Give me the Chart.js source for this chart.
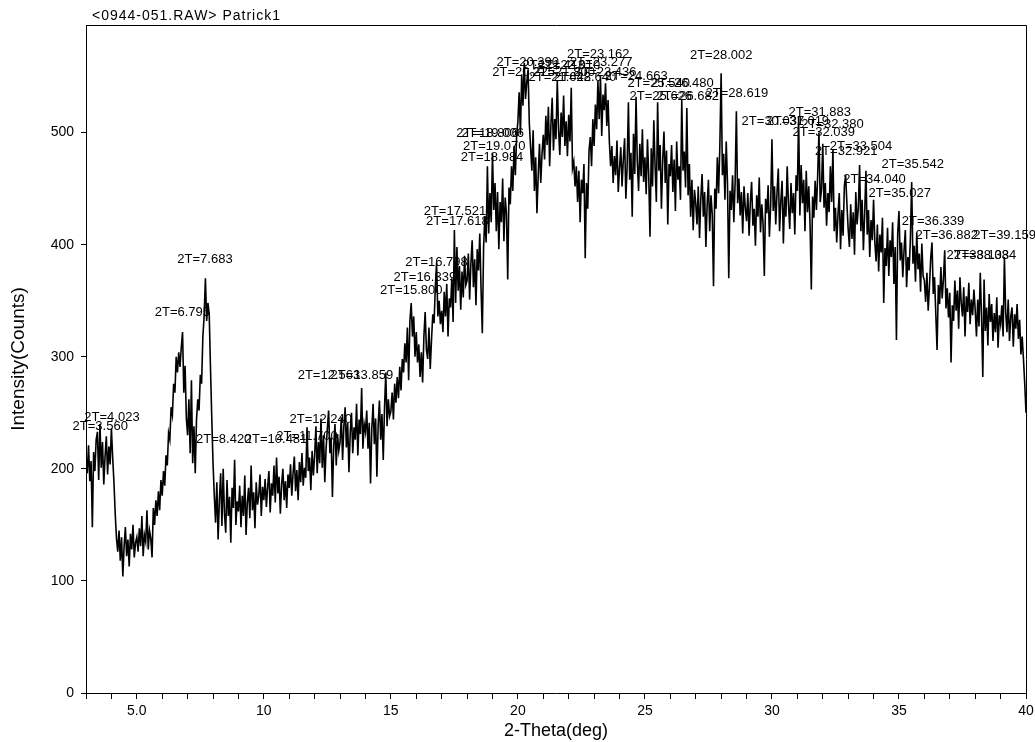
<!DOCTYPE html>
<html>
<head>
<meta charset="utf-8">
<title>0944-051 Patrick1</title>
<script src="https://cdn.jsdelivr.net/npm/chart.js@4.4.1/dist/chart.umd.min.js"></script>
<style>
    html, body { margin: 0; padding: 0; background: #fff; }
    #wrap { width: 1035px; height: 742px; }
</style>
</head>
<body>
<div id="wrap"><canvas id="xrd_chart" width="1035" height="742"></canvas></div>
<script>
// scan: 2-theta from 3.00 to 40.00 deg, one reading every 0.05 deg
var thetaStart = 3.0;
var thetaStep = 0.05;

// counts, one row per degree
var counts = [
    212, 196, 221, 189, 207, 148, 215, 198, 226, 233, 190, 240, 201, 224, 186, 211, 229, 195, 220, 204,
    236, 210, 188, 160, 138, 126, 145, 118, 139, 104, 131, 148, 122, 137, 113, 142, 128, 150, 121, 134,
    139, 126, 147, 131, 158, 122, 141, 135, 163, 128, 145, 138, 121, 165, 150, 172, 158, 180, 163, 190,
    176, 198, 185, 212, 203, 232, 226, 255, 248, 276, 268, 300, 286, 304, 291, 308, 322, 268, 292, 245,
    230, 262, 214, 279, 205, 238, 196, 244, 262, 252, 284, 276, 318, 336, 370, 332, 348, 338, 290, 246,
    205, 176, 152, 188, 137, 172, 196, 149, 200, 160, 143, 190, 158, 175, 134, 183, 165, 208, 150, 171,
    162, 185, 148, 176, 158, 194, 141, 170, 183, 156, 203, 163, 179, 147, 188, 168, 176, 195, 158, 184,
    172, 191, 166, 184, 198, 161, 187, 176, 203, 170, 210, 178, 193, 160, 186, 200, 172, 189, 165, 195,
    183, 204, 176, 196, 211, 180, 199, 172, 206, 188, 214, 185, 201, 192, 237, 198, 210, 181, 216, 194,
    212, 238, 196, 224, 205, 245, 201, 230, 188, 218, 236, 252, 214, 228, 175, 220, 240, 203, 231, 216,
    224, 246, 208, 238, 255, 219, 241, 197, 232, 250, 214, 237, 226, 258, 212, 244, 231, 272, 218, 240,
    233, 252, 218, 241, 187, 236, 258, 222, 245, 193, 239, 261, 226, 249, 208, 254, 286, 238, 262, 247,
    251, 268, 244, 276, 259, 282, 263, 291, 270, 298, 286, 312, 295, 326, 279, 332, 348, 318, 336, 300,
    322, 295, 311, 282, 304, 277, 318, 340, 306, 298, 326, 289, 315, 338, 330, 362, 384, 336, 350, 329,
    341, 322, 358, 336, 365, 318, 352, 344, 370, 331, 413, 348, 398, 359, 381, 342, 376, 353, 390, 364,
    368, 392, 351, 383, 404, 362, 387, 346, 396, 377, 410, 360, 321, 398, 425, 402, 470, 410, 446, 420,
    482, 431, 455, 412, 447, 396, 438, 420, 459, 403, 442, 428, 369, 451, 436, 470, 448, 488, 462, 497,
    510, 536, 498, 552, 524, 562, 530, 545, 556, 508, 487, 466, 502, 448, 478, 428, 462, 490, 455, 481,
    498, 476, 515, 489, 523, 470, 507, 531, 484, 512, 494, 547, 503, 480, 518, 496, 533, 488, 510, 479,
    516, 492, 540, 468, 474, 452, 470, 438, 466, 420, 458, 446, 472, 388, 455, 432, 484, 496, 470, 512,
    488, 525, 503, 546, 512, 550, 497, 534, 520, 544, 506, 529, 492, 470, 488, 455, 479, 462, 493, 447,
    468, 487, 452, 476, 495, 441, 470, 527, 458, 482, 425, 499, 463, 532, 474, 448, 490, 461, 503, 456,
    478, 445, 494, 462, 407, 486, 452, 511, 470, 438, 527, 466, 489, 432, 475, 501, 455, 484, 418, 472,
    461, 489, 447, 476, 430, 492, 458, 470, 440, 529, 466, 483, 451, 522, 444, 472, 425, 458, 413, 449,
    437, 418, 452, 406, 441, 463, 425, 447, 398, 436, 458, 412, 444, 427, 363, 450, 432, 478, 446, 489,
    553, 462, 481, 440, 492, 455, 370, 448, 431, 462, 420, 455, 519, 437, 459, 426, 447, 410, 452, 433,
    421, 446, 408, 438, 456, 417, 432, 399, 444, 425, 460, 411, 436, 419, 372, 441, 428, 453, 407, 435,
    494, 430, 452, 418, 447, 468, 412, 439, 457, 401, 443, 425, 470, 436, 414, 455, 428, 446, 409, 462,
    448, 514, 426, 471, 437, 458, 412, 466, 429, 452, 418, 360, 443, 424, 457, 431, 462, 500, 438, 449,
    490, 433, 455, 417, 446, 429, 470, 438, 485, 412, 433, 402, 427, 446, 396, 431, 408, 452, 462, 437,
    414, 398, 436, 405, 429, 391, 447, 418, 433, 471, 412, 440, 395, 428, 466, 409, 431, 389, 422, 404,
    440, 402, 385, 418, 376, 409, 393, 424, 348, 397, 381, 415, 372, 404, 389, 420, 365, 398, 315, 410,
    430, 386, 402, 371, 395, 413, 362, 389, 377, 406, 456, 383, 399, 367, 411, 378, 392, 358, 401, 372,
    368, 349, 375, 341, 363, 388, 402, 356, 371, 338, 306, 364, 347, 380, 352, 369, 395, 343, 361, 335,
    357, 295, 346, 332, 368, 341, 359, 325, 371, 348, 336, 362, 318, 354, 340, 366, 329, 351, 337, 360,
    342, 318, 351, 327, 375, 336, 282, 369, 323, 344, 310, 356, 331, 347, 314, 339, 322, 353, 308, 337,
    329, 346, 318, 389, 340, 322, 351, 314, 336, 344, 309, 338, 325, 347, 316, 333, 302, 318, 298, 276,
    250
];

// peak markers: 2-theta of the peak and the count level where its label sits
var peakTheta = [
    3.560, 4.023, 6.795, 7.683, 8.420, 10.481, 11.700, 12.240, 12.563, 13.859,
    15.800, 16.339, 16.798, 17.521, 17.618, 18.806, 19.006, 19.070, 18.984,
    20.390, 20.225, 21.413, 21.648, 21.800, 22.010, 22.640, 23.162, 23.277, 23.436,
    24.663, 25.540, 26.480, 25.626, 26.682, 28.002, 28.619,
    30.037, 31.019, 31.883, 32.380, 32.039, 32.921, 33.504, 35.542, 34.040, 35.027,
    36.339, 36.882, 39.159, 38.103, 38.384
];
var peakLabelCounts = [
    238, 246, 340, 387, 226, 226, 229, 244, 283, 283,
    359, 371, 384, 430, 421, 499, 499, 488, 478,
    563, 554, 560, 549, 554, 560, 549, 570, 563, 554,
    550, 544, 544, 532, 532, 569, 535,
    510, 510, 518, 507, 500, 483, 488, 472, 458, 446,
    421, 408, 408, 390, 390
];

var countTicks = [0, 100, 200, 300, 400, 500];
var thetaLabels = { 5: '5.0', 10: '10', 15: '15', 20: '20', 25: '25', 30: '30', 35: '35', 40: '40' };

var fontName = '"Liberation Sans", Arial, sans-serif';

var Plot = {
    Points: function () {
        var pts = [];
        for (var i = 0; i < counts.length; ++i) {
            pts.push({ x: +(thetaStart + i * thetaStep).toFixed(2), y: counts[i] });
        }
        return pts;
    },
    Decor: {
        id: 'decor',
        beforeDatasetsDraw: function (chart) {
            var ctx = chart.ctx;
            var sx = chart.scales.x, sy = chart.scales.y;
            ctx.save();
            ctx.fillStyle = '#000';
            ctx.font = '13px ' + fontName;
            ctx.textAlign = 'center';
            ctx.textBaseline = 'middle';
            for (var i = 0; i < peakTheta.length; ++i) {
                ctx.fillText('2T=' + peakTheta[i].toFixed(3),
                    sx.getPixelForValue(peakTheta[i]), sy.getPixelForValue(peakLabelCounts[i]));
            }
            ctx.restore();
        },
        afterDraw: function (chart) {
            var ctx = chart.ctx;
            var a = chart.chartArea;
            ctx.save();
            ctx.strokeStyle = '#000';
            ctx.lineWidth = 1;
            ctx.beginPath();
            ctx.moveTo(Math.round(a.left) + 0.5, Math.round(a.top) + 0.5);
            ctx.lineTo(Math.round(a.right) + 0.5, Math.round(a.top) + 0.5);
            ctx.lineTo(Math.round(a.right) + 0.5, Math.round(a.bottom) + 0.5);
            ctx.stroke();
            ctx.fillStyle = '#000';
            ctx.font = '14px ' + fontName;
            ctx.letterSpacing = '1px';
            ctx.textAlign = 'left';
            ctx.textBaseline = 'alphabetic';
            ctx.fillText('<0944-051.RAW> Patrick1', a.left + 6, a.top - 5);
            ctx.restore();
        }
    },
    Config: function () {
        return {
            type: 'line',
            data: {
                datasets: [{
                    label: 'Patrick1',
                    data: Plot.Points(),
                    borderColor: '#000',
                    borderWidth: 1.6,
                    pointRadius: 0,
                    tension: 0,
                    fill: false
                }]
            },
            options: {
                responsive: false,
                animation: false,
                parsing: false,
                normalized: true,
                layout: { padding: { top: 25, right: 9, left: 0, bottom: 0 } },
                plugins: {
                    legend: { display: false },
                    tooltip: { enabled: false }
                },
                scales: {
                    x: {
                        type: 'linear',
                        min: 3,
                        max: 40,
                        afterBuildTicks: function (scale) {
                            var t = [];
                            for (var v = 3; v <= 40; ++v) t.push({ value: v });
                            scale.ticks = t;
                        },
                        afterFit: function (scale) {
                            scale.height = 49;
                            // the "40" label may hang past the frame, as in the original
                            scale.paddingRight = 0;
                            scale.paddingLeft = 0;
                        },
                        grid: { drawOnChartArea: false, tickLength: 6, color: '#000', tickColor: '#000' },
                        border: { color: '#000', width: 1 },
                        ticks: {
                            autoSkip: false,
                            maxRotation: 0,
                            padding: 4,
                            color: '#000',
                            font: { family: fontName, size: 14 },
                            callback: function (v) { return thetaLabels[v] || ''; }
                        },
                        title: {
                            display: true,
                            text: '2-Theta(deg)',
                            color: '#000',
                            font: { family: fontName, size: 18 },
                            padding: { top: 0, bottom: 0 }
                        }
                    },
                    y: {
                        min: 0,
                        max: 596,
                        afterBuildTicks: function (scale) {
                            scale.ticks = countTicks.map(function (v) { return { value: v }; });
                        },
                        afterFit: function (scale) { scale.width = 86; },
                        grid: { drawOnChartArea: false, tickLength: 5, color: '#000', tickColor: '#000' },
                        border: { color: '#000', width: 1 },
                        ticks: {
                            padding: 7,
                            color: '#000',
                            font: { family: fontName, size: 14 }
                        },
                        title: {
                            display: true,
                            text: 'Intensity(Counts)',
                            color: '#000',
                            font: { family: fontName, size: 19 },
                            padding: { top: 7, bottom: 0 }
                        }
                    }
                }
            },
            plugins: [Plot.Decor]
        };
    }
};

new Chart(document.getElementById('xrd_chart').getContext('2d'), Plot.Config());
</script>
</body>
</html>
